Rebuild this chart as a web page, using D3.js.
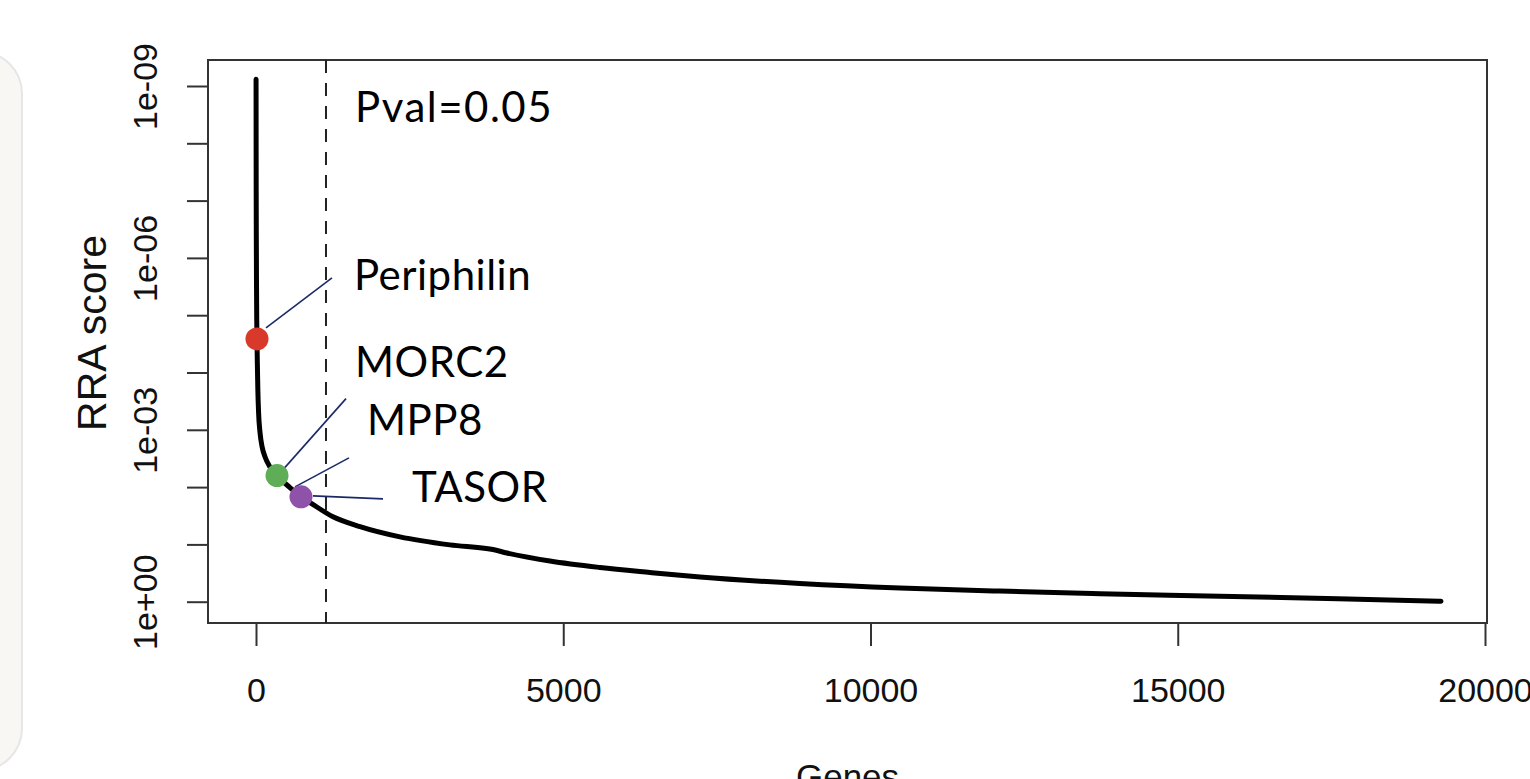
<!DOCTYPE html>
<html>
<head>
<meta charset="utf-8">
<script src="https://cdn.jsdelivr.net/npm/d3@7"></script>
<style>
  html, body { margin: 0; padding: 0; background: #ffffff; overflow: hidden; }
  svg { display: block; }
</style>
</head>
<body>
<svg id="chart" width="1530" height="779"></svg>
<script>
// ---------- data ----------
const geneRank = [1, 2, 3, 5, 8, 12, 16, 22, 30, 42, 65, 100, 146, 230, 342, 553, 732, 878,
  1253, 1692, 2343, 3156, 3856, 4083, 4784, 5598, 6412, 7225, 8853, 10480, 12107, 13735,
  14858, 17608, 19284];
const rraScore = [7.6e-10, 1.0e-8, 6e-8, 4e-7, 2.5e-6, 1.2e-5, 2.6e-5, 7e-5, 2e-4, 5e-4,
  1.1e-3, 2.0e-3, 2.95e-3, 4.5e-3, 6.3e-3, 1.02e-2, 1.48e-2, 1.86e-2,
  3.3e-2, 4.9e-2, 7.4e-2, 0.102, 0.123, 0.141, 0.195, 0.253, 0.309, 0.371, 0.481, 0.577, 0.653, 0.723,
  0.771, 0.887, 0.98];

const highlightGenes = ["Periphilin", "MORC2", "MPP8/TASOR"];
const highlightRank = [16, 342, 732];
const highlightScore = [2.6e-5, 6.3e-3, 1.48e-2];
const highlightColor = ["#d8392b", "#5fae57", "#8e52a8"];

const labelTexts = ["Periphilin", "MORC2", "MPP8", "TASOR"];
const labelPoint = [0, 1, 2, 2];          // which highlighted point each label refers to

const pvalCutoffRank = 1139;
const pvalLabel = "Pval=0.05";

const xTicks = [0, 5000, 10000, 15000, 20000];
const yTicks = [1, 1e-1, 1e-2, 1e-3, 1e-4, 1e-5, 1e-6, 1e-7, 1e-8, 1e-9];
const yTickLabels = {"1": "1e+00", "0.001": "1e-03", "0.000001": "1e-06", "1e-9": "1e-09"};

const xTitle = "Genes";
const yTitle = "RRA score";

// ---------- layout ----------
const svg = d3.select("#chart");
const box = {left: 208, right: 1487, top: 60, bottom: 623};

// left decorative panel
svg.append("rect")
  .attr("x", -60).attr("y", 52).attr("width", 82).attr("height", 718)
  .attr("rx", 42).attr("ry", 42)
  .attr("fill", "#f8f7f4").attr("stroke", "#e6e6e6").attr("stroke-width", 2);

const x = d3.scaleLinear().domain([0, 20000]).range([256, 1485]);
const y = d3.scaleLog().domain([1, 1e-9]).range([601.7, 86]);

// x axis
const xAxis = svg.append("g")
  .attr("transform", `translate(0,${box.bottom})`)
  .call(d3.axisBottom(x).tickValues(xTicks).tickSize(23).tickFormat(d3.format("d")));
xAxis.select(".domain").remove();
xAxis.selectAll(".tick line").attr("stroke", "#333").attr("stroke-width", 2);
xAxis.selectAll(".tick text")
  .attr("y", 79).attr("dy", null)
  .attr("font-family", "'Liberation Sans', Arial, sans-serif")
  .attr("font-size", 34).attr("fill", "#111");

// y axis
const yAxis = svg.append("g")
  .attr("transform", `translate(${box.left},0)`)
  .call(d3.axisLeft(y).tickValues(yTicks).tickSize(21).tickFormat(""));
yAxis.select(".domain").remove();
yAxis.selectAll(".tick line").attr("stroke", "#333").attr("stroke-width", 2);
yAxis.selectAll(".tick").each(function(d) {
  const key = String(+d.toPrecision(3));
  const lab = yTickLabels[key];
  if (!lab) return;
  d3.select(this).append("text")
    .attr("transform", "translate(-51,0) rotate(-90)")
    .attr("text-anchor", "middle")
    .attr("font-family", "'Liberation Sans', Arial, sans-serif")
    .attr("font-size", 34).attr("fill", "#111")
    .text(lab);
});

// axis titles
svg.append("text")
  .attr("transform", `translate(106,${333}) rotate(-90)`)
  .attr("text-anchor", "middle")
  .attr("font-family", "'Liberation Sans', Arial, sans-serif")
  .attr("font-size", 41).attr("fill", "#111")
  .text(yTitle);
svg.append("text")
  .attr("x", (box.left + box.right) / 2).attr("y", 789)
  .attr("text-anchor", "middle")
  .attr("font-family", "'Liberation Sans', Arial, sans-serif")
  .attr("font-size", 35).attr("fill", "#111")
  .text(xTitle);

// frame
svg.append("rect")
  .attr("x", box.left).attr("y", box.top)
  .attr("width", box.right - box.left).attr("height", box.bottom - box.top)
  .attr("fill", "none").attr("stroke", "#333").attr("stroke-width", 2);

// cutoff line
svg.append("line")
  .attr("x1", x(pvalCutoffRank)).attr("x2", x(pvalCutoffRank))
  .attr("y1", box.top).attr("y2", box.bottom)
  .attr("stroke", "#222").attr("stroke-width", 2)
  .attr("stroke-dasharray", "13,10");

const annoFont = "Lato, 'Open Sans', sans-serif";
svg.append("text")
  .attr("x", x(pvalCutoffRank) + 29).attr("y", 122)
  .attr("font-family", annoFont).attr("font-size", 42).attr("fill", "#000")
  .attr("letter-spacing", 1.5)
  .text(pvalLabel);

// curve
const pts = geneRank.map((r, i) => [r, rraScore[i]]);
svg.append("path")
  .datum(pts)
  .attr("d", d3.line().x(d => x(d[0])).y(d => y(d[1])).curve(d3.curveMonotoneX))
  .attr("fill", "none").attr("stroke", "#000").attr("stroke-width", 5)
  .attr("stroke-linecap", "round").attr("stroke-linejoin", "round");

// annotation layout: offsets (px) from the referenced point
const leaderStart = [[9, -11], [6, -6], [-6, -10], [12, -1]];
const leaderEnd   = [[75, -61], [69, -77], [48, -39], [82, 2]];
const labelOffset = [[97, -49], [78, -99], [66, -62], [111, 5]];

labelTexts.forEach((t, i) => {
  const p = labelPoint[i];
  const px = x(highlightRank[p]), py = y(highlightScore[p]);
  svg.append("line")
    .attr("x1", px + leaderStart[i][0]).attr("y1", py + leaderStart[i][1])
    .attr("x2", px + leaderEnd[i][0]).attr("y2", py + leaderEnd[i][1])
    .attr("stroke", "#1b2a66").attr("stroke-width", 1.6);
  svg.append("text")
    .attr("x", px + labelOffset[i][0]).attr("y", py + labelOffset[i][1])
    .attr("font-family", annoFont).attr("font-size", 42).attr("fill", "#000")
    .attr("letter-spacing", 0.5)
    .text(t);
});

// highlighted points
svg.selectAll("circle.hl")
  .data(highlightRank.map((r, i) => ({r, s: highlightScore[i], c: highlightColor[i]})))
  .enter().append("circle")
  .attr("class", "hl")
  .attr("cx", d => x(d.r)).attr("cy", d => y(d.s))
  .attr("r", 11.5)
  .attr("fill", d => d.c);
</script>
</body>
</html>
